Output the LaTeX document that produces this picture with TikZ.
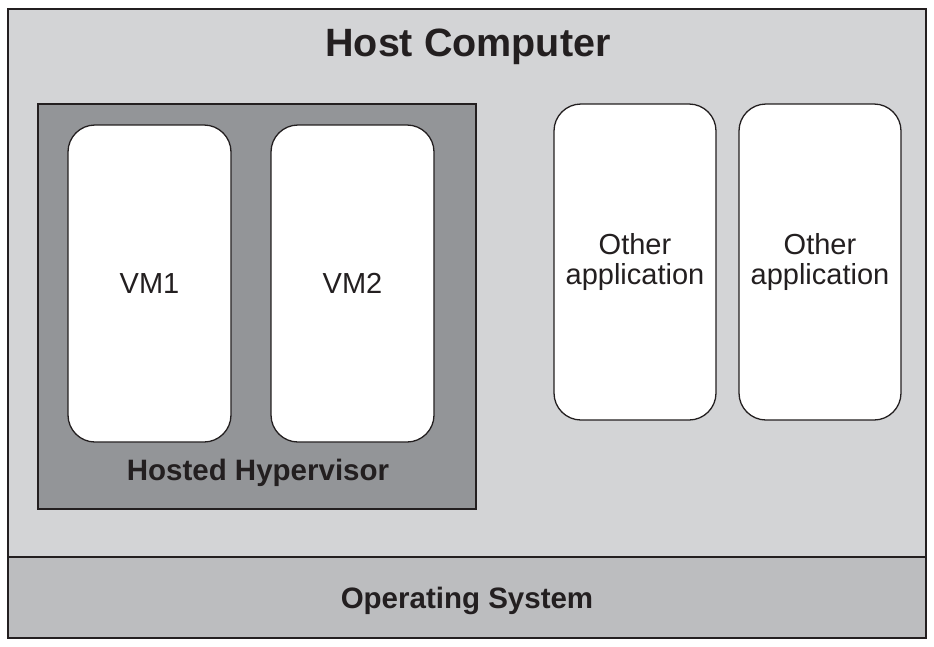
\documentclass[tikz,border=0pt]{standalone}
\usepackage{fontspec}
\setmainfont{Liberation Sans}
\definecolor{hostgray}{HTML}{D3D4D6}
\definecolor{hypgray}{HTML}{939598}
\definecolor{osgray}{HTML}{BCBDBF}
\definecolor{ink}{HTML}{231F20}
\tikzset{
  layer/.style={draw=ink, rectangle, inner sep=0pt},
  vmbox/.style={draw=ink, fill=white, line width=1.3pt, rounded corners=27pt,
     minimum width=163pt, minimum height=317pt, inner sep=0pt, align=center,
     font=\fontsize{29}{30}\selectfont, text=ink},
  boldlabel/.style={font=\fontsize{29.5}{32}\selectfont\bfseries, text=ink, inner sep=0pt},
}
\begin{document}
\begin{tikzpicture}[x=1pt,y=-1pt]
\useasboundingbox (0,0) rectangle (934,646);
\node[layer, fill=hostgray, line width=2.6pt, minimum width=918pt, minimum height=629pt] (host) at (467,323.5) {};
\node[layer, fill=osgray, line width=2.6pt, minimum width=918pt, minimum height=81pt] (os) at (467,597.5) {};
\node[boldlabel] (oslabel) at (467,601) {Operating System};
\node[boldlabel, font=\fontsize{39.5}{42}\selectfont\bfseries] (title) at (468,47) {Host Computer};
\node[layer, fill=hypgray, line width=2pt, minimum width=438pt, minimum height=405pt] (hyp) at (257,306.5) {};
\node[boldlabel] (hyplabel) at (258,473) {Hosted Hypervisor};
\node[vmbox] (vm1) at (149.5,283.5) {VM1};
\node[vmbox] (vm2) at (352.5,283.5) {VM2};
\node[vmbox, minimum width=162pt, minimum height=316pt] (app1) at (635,262) {Other\\application};
\node[vmbox, minimum width=162pt, minimum height=316pt] (app2) at (820,262) {Other\\application};
\end{tikzpicture}
\end{document}
